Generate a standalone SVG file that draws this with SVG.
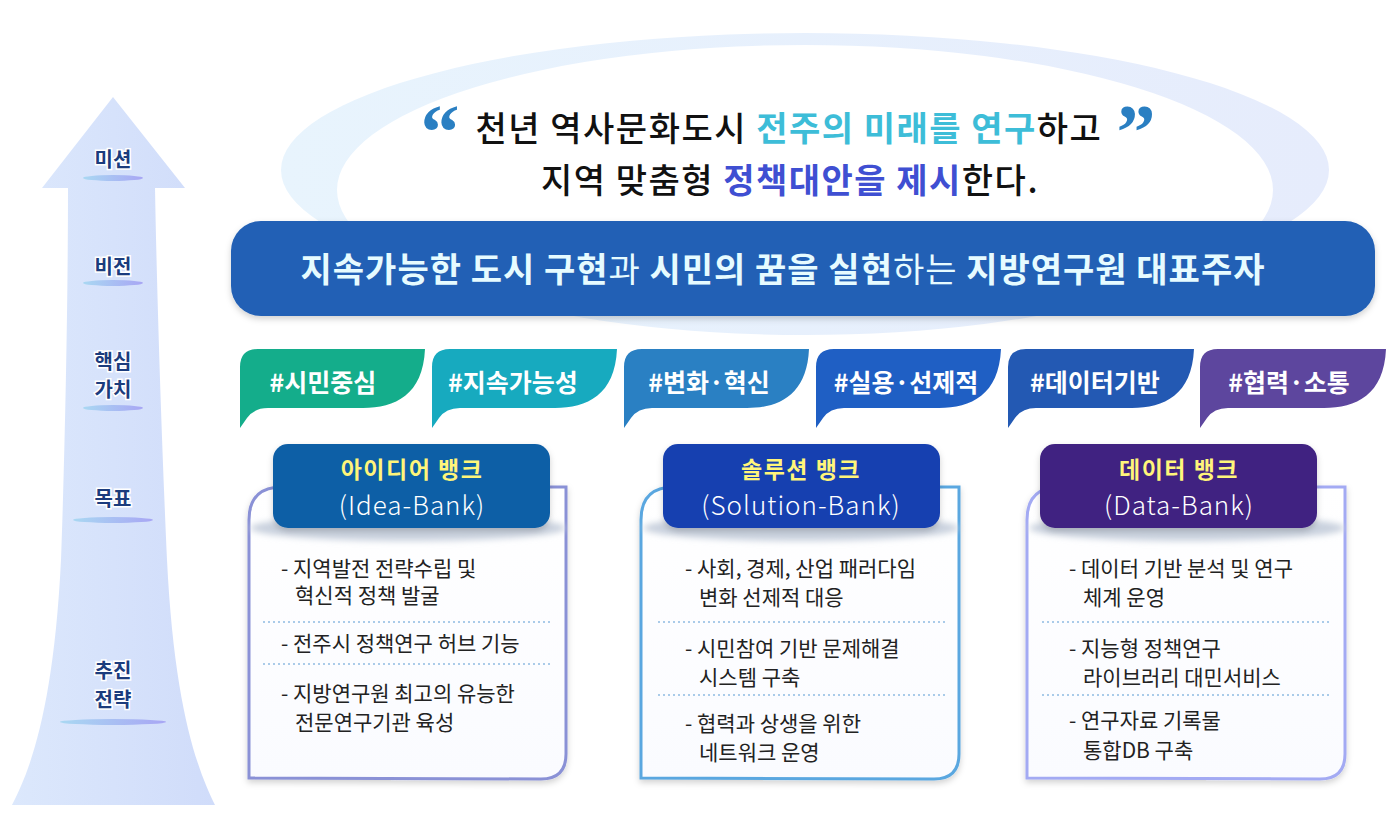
<svg xmlns="http://www.w3.org/2000/svg" width="1400" height="817" viewBox="0 0 1400 817">
<defs>
<linearGradient id="arrowG" x1="0" y1="0" x2="1" y2="0"><stop offset="0" stop-color="#dce8fc"/><stop offset="1" stop-color="#d0dcfa"/></linearGradient>
<linearGradient id="lineG" x1="0" y1="0" x2="1" y2="0"><stop offset="0" stop-color="#a9d8f2"/><stop offset="1" stop-color="#a8a6f4"/></linearGradient>
<linearGradient id="ringG" x1="0" y1="0" x2="1" y2="0"><stop offset="0" stop-color="#e8f4fd"/><stop offset="1" stop-color="#e6ecfc"/></linearGradient>
<linearGradient id="cardG" x1="0" y1="0" x2="0" y2="1"><stop offset="0" stop-color="#ffffff"/><stop offset="1" stop-color="#fafbff"/></linearGradient>
<filter id="sh" x="-10%" y="-10%" width="120%" height="130%"><feDropShadow dx="0" dy="3" stdDeviation="3" flood-color="#000" flood-opacity="0.18"/></filter>
<filter id="blur" x="-10%" y="-50%" width="120%" height="200%"><feGaussianBlur stdDeviation="3"/></filter>
<style>
.lab{font-family:"Noto Sans CJK KR","Noto Sans",sans-serif;font-weight:700;font-size:20px;fill:#1b3c7d;stroke:#ffffff;stroke-width:3px;paint-order:stroke;text-anchor:middle}
.tag{font-family:"Noto Sans CJK KR","Noto Sans",sans-serif;font-weight:700;font-size:25px;fill:#ffffff;text-anchor:middle}
.hd1{font-family:"Noto Sans CJK KR","Noto Sans",sans-serif;font-weight:700;font-size:23px;letter-spacing:1.5px;fill:#fff57a;text-anchor:middle}
.hd2{font-family:"Noto Sans CJK KR","Noto Sans",sans-serif;font-weight:300;font-size:26px;letter-spacing:1px;fill:#ffffff;text-anchor:middle}
.bd{font-family:"Noto Sans CJK KR","Noto Sans",sans-serif;font-weight:400;font-size:21px;fill:#222222}
.sep{stroke:#8fbbe2;stroke-width:1.5;stroke-dasharray:2 3}
.q{font-family:"Noto Sans CJK KR","Noto Sans",sans-serif;font-size:34px;letter-spacing:1.5px;fill:#111111;text-anchor:middle;font-weight:500}
.qm{font-family:"Liberation Serif","DejaVu Serif",serif;font-weight:700;font-size:78px;fill:#2a7fc2;text-anchor:middle}
</style>
</defs>
<rect width="1400" height="817" fill="#ffffff"/>

<g id="mission-ring">
<path fill-rule="evenodd" fill="url(#ringG)" d="M281,170 A524,137 0 1 1 1329,170 A524,137 0 1 1 281,170 Z M337,190 A468,145 0 1 0 1273,190 A468,145 0 1 0 337,190 Z"/>
</g>

<g id="axis-arrow">
<path fill="url(#arrowG)" d="M113,97 L185,188 L155,188 C157,300 162,450 167,560 C174,700 195,765 215,805 L12,805 C33,765 54,700 61,560 C65,450 68,300 68,188 L42,188 Z"/>
<ellipse cx="113" cy="178" rx="30" ry="3" fill="url(#lineG)"/>
<ellipse cx="113" cy="283" rx="30" ry="3" fill="url(#lineG)"/>
<ellipse cx="113" cy="408" rx="30" ry="3" fill="url(#lineG)"/>
<ellipse cx="113" cy="520" rx="40" ry="3" fill="url(#lineG)"/>
<ellipse cx="113" cy="722" rx="53" ry="3" fill="url(#lineG)"/>
<text class="lab" x="113" y="167">미션</text>
<text class="lab" x="113" y="274">비전</text>
<text class="lab" x="113" y="369" font-size="19">핵심<tspan x="113" dy="28">가치</tspan></text>
<text class="lab" x="113" y="506">목표</text>
<text class="lab" x="113" y="678">추진<tspan x="113" dy="29">전략</tspan></text>
</g>

<g id="mission">
<text class="qm" x="440" y="158">“</text>
<text class="q" x="789" y="141">천년 역사문화도시 <tspan fill="#3dbdd8" font-weight="700">전주의 미래를 연구</tspan>하고</text>
<text class="qm" x="1136" y="158">”</text>
<text class="q" x="790" y="193">지역 맞춤형 <tspan fill="#3f4fd2" font-weight="700">정책대안을 제시</tspan>한다.</text>
</g>

<g id="vision">
<rect x="231" y="221" width="1144" height="95" rx="30" fill="#2260b5" filter="url(#sh)"/>
<text x="783" y="282" font-family="'Noto Sans CJK KR','Noto Sans',sans-serif" font-size="34" letter-spacing="1" font-weight="700" fill="#e6fbff" text-anchor="middle">지속가능한 도시 구현<tspan font-weight="400">과</tspan> 시민의 꿈을 실현<tspan font-weight="400">하는</tspan> 지방연구원 대표주자</text>
</g>

<g id="tag1">
<path fill="#14ad8b" d="M240,428 L240,367 Q240,349 258,349 L425,349 C423,395 395,408 363,408 L268,408 Q254,408 247,418 Z"/>
<text class="tag" x="323" y="392">#시민중심</text>
</g>
<g id="tag2">
<path fill="#17aabf" d="M432,428 L432,367 Q432,349 450,349 L617,349 C615,395 587,408 555,408 L460,408 Q446,408 439,418 Z"/>
<text class="tag" x="513" y="392">#지속가능성</text>
</g>
<g id="tag3">
<path fill="#2a80c3" d="M624,428 L624,367 Q624,349 642,349 L809,349 C807,395 779,408 747,408 L652,408 Q638,408 631,418 Z"/>
<text class="tag" x="709" y="392">#변화·혁신</text>
</g>
<g id="tag4">
<path fill="#1f5fc4" d="M816,428 L816,367 Q816,349 834,349 L1001,349 C999,395 971,408 939,408 L844,408 Q830,408 823,418 Z"/>
<text class="tag" x="906" y="392">#실용·선제적</text>
</g>
<g id="tag5">
<path fill="#2359b3" d="M1008,428 L1008,367 Q1008,349 1026,349 L1194,349 C1192,395 1164,408 1132,408 L1036,408 Q1022,408 1015,418 Z"/>
<text class="tag" x="1095" y="392">#데이터기반</text>
</g>
<g id="tag6">
<path fill="#5d469e" d="M1200,428 L1200,367 Q1200,349 1218,349 L1386,349 C1384,395 1356,408 1324,408 L1228,408 Q1214,408 1207,418 Z"/>
<text class="tag" x="1289" y="392">#협력·소통</text>
</g>

<g id="card-idea">
<path d="M249,778 L249,520 Q249,487 282,487 L566,487 L566,754 Q566,779 541,779 Z" fill="url(#cardG)" stroke="#8a91d6" stroke-width="3" filter="url(#sh)"/>
<ellipse cx="408" cy="528" rx="158" ry="13" fill="#c9d1de" filter="url(#blur)"/>
<rect x="273" y="444" width="277" height="84" rx="15" fill="#0f5fa6" filter="url(#sh)"/>
<text class="hd1" x="412" y="478">아이디어 뱅크</text>
<text class="hd2" x="412" y="515">(Idea-Bank)</text>
<text class="bd" x="281" y="576">- 지역발전 전략수립 및</text>
<text class="bd" x="295" y="603">혁신적 정책 발굴</text>
<line class="sep" x1="263" y1="622" x2="550" y2="622"/>
<text class="bd" x="281" y="651">- 전주시 정책연구 허브 기능</text>
<line class="sep" x1="263" y1="664" x2="550" y2="664"/>
<text class="bd" x="281" y="701">- 지방연구원 최고의 유능한</text>
<text class="bd" x="295" y="730">전문연구기관 육성</text>
</g>

<g id="card-solution">
<path d="M641,778 L641,520 Q641,487 674,487 L959,487 L959,754 Q959,779 934,779 Z" fill="url(#cardG)" stroke="#5aa7e0" stroke-width="3" filter="url(#sh)"/>
<ellipse cx="801" cy="528" rx="158" ry="13" fill="#c9d1de" filter="url(#blur)"/>
<rect x="663" y="444" width="277" height="84" rx="15" fill="#1640b0" filter="url(#sh)"/>
<text class="hd1" x="801" y="478">솔루션 뱅크</text>
<text class="hd2" x="801" y="515">(Solution-Bank)</text>
<text class="bd" x="685" y="576">- 사회, 경제, 산업 패러다임</text>
<text class="bd" x="699" y="605">변화 선제적 대응</text>
<line class="sep" x1="658" y1="622" x2="945" y2="622"/>
<text class="bd" x="685" y="656">- 시민참여 기반 문제해결</text>
<text class="bd" x="699" y="685">시스템 구축</text>
<line class="sep" x1="658" y1="695" x2="945" y2="695"/>
<text class="bd" x="685" y="731">- 협력과 상생을 위한</text>
<text class="bd" x="699" y="760">네트워크 운영</text>
</g>

<g id="card-data">
<path d="M1027,778 L1027,520 Q1027,487 1060,487 L1345,487 L1345,754 Q1345,779 1320,779 Z" fill="url(#cardG)" stroke="#a3aaf3" stroke-width="3" filter="url(#sh)"/>
<ellipse cx="1187" cy="528" rx="158" ry="13" fill="#c9d1de" filter="url(#blur)"/>
<rect x="1040" y="444" width="277" height="84" rx="15" fill="#3f2181" filter="url(#sh)"/>
<text class="hd1" x="1179" y="478">데이터 뱅크</text>
<text class="hd2" x="1179" y="515">(Data-Bank)</text>
<text class="bd" x="1069" y="576">- 데이터 기반 분석 및 연구</text>
<text class="bd" x="1083" y="605">체계 운영</text>
<line class="sep" x1="1042" y1="622" x2="1330" y2="622"/>
<text class="bd" x="1069" y="656">- 지능형 정책연구</text>
<text class="bd" x="1083" y="685">라이브러리 대민서비스</text>
<line class="sep" x1="1042" y1="695" x2="1330" y2="695"/>
<text class="bd" x="1069" y="728">- 연구자료 기록물</text>
<text class="bd" x="1083" y="758">통합DB 구축</text>
</g>
</svg>
